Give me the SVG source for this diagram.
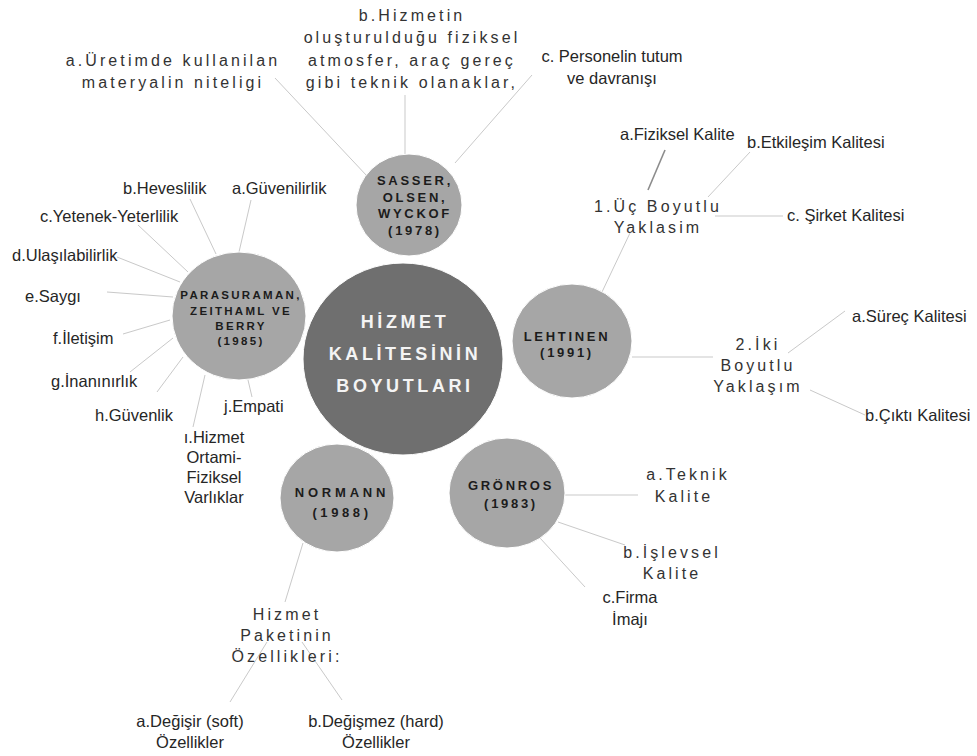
<svg xmlns="http://www.w3.org/2000/svg" width="977" height="756" viewBox="0 0 977 756">
<style>
.bg{fill:#ffffff}
.sat{fill:#a6a6a6;stroke:#ffffff;stroke-width:1}
.core{fill:#6f6f6f;stroke:#ffffff;stroke-width:1}
.ct{font-family:"Liberation Sans",Arial,sans-serif;font-weight:bold;font-size:18px;letter-spacing:3.6px;fill:#f4f4f4;text-anchor:middle}
.nt{font-family:"Liberation Sans",Arial,sans-serif;font-weight:bold;font-size:13px;letter-spacing:2.7px;fill:#1c1c1c;text-anchor:middle}
.pt{font-family:"Liberation Sans",Arial,sans-serif;font-weight:bold;font-size:11.5px;letter-spacing:2.3px;fill:#1c1c1c;text-anchor:middle}
.lb{font-family:"Liberation Sans",Arial,sans-serif;font-size:16.5px;fill:#262626}
.ls{font-family:"Liberation Sans",Arial,sans-serif;font-size:16px;letter-spacing:3.1px;fill:#333333;text-anchor:middle}
.m{text-anchor:middle}
.cn line{stroke:#c9c9c9;stroke-width:1;fill:none}
</style>
<rect class="bg" x="0" y="0" width="977" height="756"/>

<g id="connectors" class="cn">
  <line x1="275" y1="78" x2="367" y2="176"/>
  <line x1="405" y1="95" x2="405" y2="157"/>
  <line x1="532" y1="75" x2="455" y2="163"/>
  <line x1="190" y1="199" x2="216" y2="254"/>
  <line x1="251" y1="200" x2="239" y2="252"/>
  <line x1="138" y1="225" x2="188" y2="272"/>
  <line x1="117" y1="257" x2="180" y2="282"/>
  <line x1="107" y1="292" x2="173" y2="297"/>
  <line x1="123" y1="334" x2="170" y2="320"/>
  <line x1="130" y1="372" x2="173" y2="338"/>
  <line x1="157" y1="392" x2="183" y2="357"/>
  <line x1="193" y1="427" x2="205" y2="375"/>
  <line x1="252" y1="397" x2="248" y2="380"/>
  <line x1="665" y1="150" x2="648" y2="190" style="stroke:#8c8c8c;stroke-width:1.6"/>
  <line x1="750" y1="152" x2="708" y2="197"/>
  <line x1="715" y1="216" x2="783" y2="216"/>
  <line x1="630" y1="233" x2="602" y2="292"/>
  <line x1="632" y1="357" x2="713" y2="357"/>
  <line x1="788" y1="353" x2="845" y2="311"/>
  <line x1="810" y1="390" x2="865" y2="415"/>
  <line x1="565" y1="495" x2="638" y2="495"/>
  <line x1="558" y1="522" x2="625" y2="545"/>
  <line x1="540" y1="538" x2="585" y2="587"/>
  <line x1="303" y1="543" x2="285" y2="602"/>
  <line x1="267" y1="642" x2="230" y2="702"/>
  <line x1="302" y1="642" x2="342" y2="700"/>
</g>

<g id="node-center">
  <ellipse class="core" cx="403" cy="359" rx="100" ry="96"/>
  <text class="ct" x="405" y="328">HİZMET</text>
  <text class="ct" x="405" y="360">KALİTESİNİN</text>
  <text class="ct" x="405" y="392">BOYUTLARI</text>
</g>

<g id="node-sasser">
  <ellipse class="sat" cx="409" cy="205" rx="53" ry="51"/>
  <text class="nt" x="415" y="185">SASSER,</text>
  <text class="nt" x="415" y="202">OLSEN,</text>
  <text class="nt" x="415" y="218">WYCKOF</text>
  <text class="nt" x="415" y="235">(1978)</text>
</g>

<g id="node-parasuraman">
  <ellipse class="sat" cx="239" cy="316" rx="67" ry="64"/>
  <text class="pt" x="241" y="299">PARASURAMAN,</text>
  <text class="pt" x="241" y="315">ZEITHAML VE</text>
  <text class="pt" x="241" y="330">BERRY</text>
  <text class="pt" x="241" y="345">(1985)</text>
</g>

<g id="node-lehtinen">
  <ellipse class="sat" cx="572" cy="341" rx="60" ry="57"/>
  <text class="nt" x="567" y="341">LEHTINEN</text>
  <text class="nt" x="567" y="357">(1991)</text>
</g>

<g id="node-gronros">
  <ellipse class="sat" cx="507" cy="493" rx="58" ry="55"/>
  <text class="nt" x="511" y="490">GRÖNROS</text>
  <text class="nt" x="511" y="508">(1983)</text>
</g>

<g id="node-normann">
  <ellipse class="sat" cx="337" cy="498" rx="57" ry="54"/>
  <text class="nt" x="342" y="497" style="letter-spacing:3.8px">NORMANN</text>
  <text class="nt" x="342" y="517" style="letter-spacing:3.6px">(1988)</text>
</g>

<g id="labels-sasser">
  <text class="ls" x="173" y="66">a.Üretimde kullanilan</text>
  <text class="ls" x="173" y="88">materyalin niteligi</text>
  <text class="ls" x="412" y="21">b.Hizmetin</text>
  <text class="ls" x="412" y="43">oluşturulduğu fiziksel</text>
  <text class="ls" x="412" y="66">atmosfer, araç gereç</text>
  <text class="ls" x="412" y="88">gibi teknik olanaklar,</text>
  <text class="lb m" x="612" y="62">c. Personelin tutum</text>
  <text class="lb m" x="612" y="84">ve davranışı</text>
</g>

<g id="labels-parasuraman">
  <text class="lb" x="123" y="194">b.Heveslilik</text>
  <text class="lb" x="232" y="194">a.Güvenilirlik</text>
  <text class="lb" x="40" y="222">c.Yetenek-Yeterlilik</text>
  <text class="lb" x="12" y="261">d.Ulaşılabilirlik</text>
  <text class="lb" x="25" y="302">e.Saygı</text>
  <text class="lb" x="53" y="344">f.İletişim</text>
  <text class="lb" x="51" y="387">g.İnanınırlık</text>
  <text class="lb" x="95" y="421">h.Güvenlik</text>
  <text class="lb" x="224" y="412">j.Empati</text>
  <text class="lb m" x="214" y="443">ı.Hizmet</text>
  <text class="lb m" x="214" y="463">Ortami-</text>
  <text class="lb m" x="214" y="483">Fiziksel</text>
  <text class="lb m" x="214" y="503">Varlıklar</text>
</g>

<g id="labels-lehtinen">
  <text class="lb" x="620" y="140">a.Fiziksel Kalite</text>
  <text class="lb" x="747" y="148">b.Etkileşim Kalitesi</text>
  <text class="ls" x="658" y="212">1.Üç Boyutlu</text>
  <text class="ls" x="658" y="233">Yaklasim</text>
  <text class="lb" x="787" y="221">c. Şirket Kalitesi</text>
  <text class="ls" x="758" y="350">2.İki</text>
  <text class="ls" x="758" y="371">Boyutlu</text>
  <text class="ls" x="758" y="392">Yaklaşım</text>
  <text class="lb" x="852" y="322">a.Süreç Kalitesi</text>
  <text class="lb" x="865" y="421">b.Çıktı Kalitesi</text>
</g>

<g id="labels-gronros">
  <text class="ls" x="688" y="480">a.Teknik</text>
  <text class="ls" x="684" y="502">Kalite</text>
  <text class="ls" x="672" y="558">b.İşlevsel</text>
  <text class="ls" x="672" y="579">Kalite</text>
  <text class="lb m" x="630" y="603">c.Firma</text>
  <text class="lb m" x="630" y="625">İmajı</text>
</g>

<g id="labels-normann">
  <text class="ls" x="287" y="620">Hizmet</text>
  <text class="ls" x="287" y="641">Paketinin</text>
  <text class="ls" x="287" y="662">Özellikleri:</text>
  <text class="lb m" x="190" y="727">a.Değişir (soft)</text>
  <text class="lb m" x="190" y="748">Özellikler</text>
  <text class="lb m" x="376" y="727">b.Değişmez (hard)</text>
  <text class="lb m" x="376" y="748">Özellikler</text>
</g>
</svg>
